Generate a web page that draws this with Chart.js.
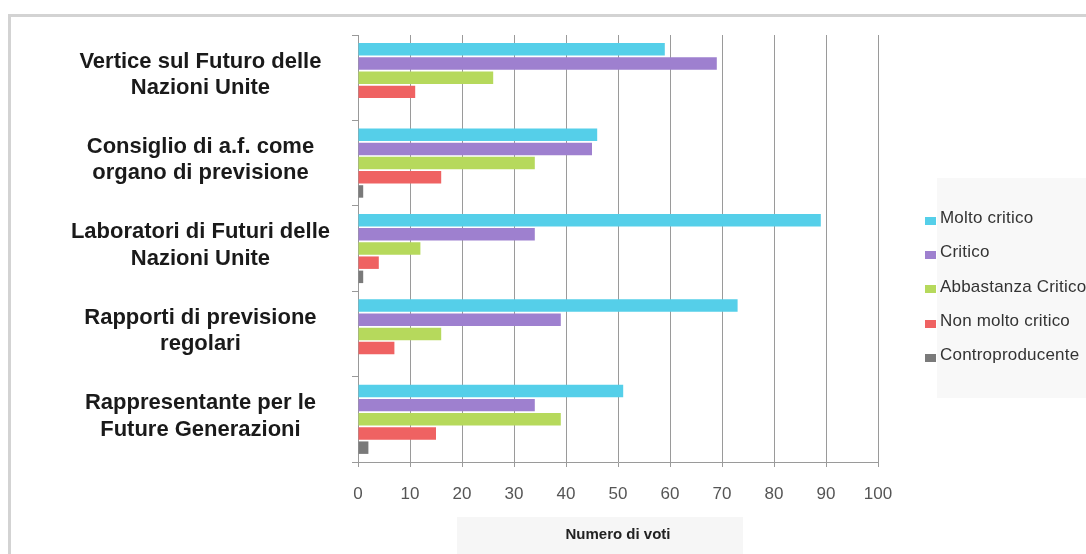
<!DOCTYPE html>
<html>
<head>
<meta charset="utf-8">
<script src="https://cdn.jsdelivr.net/npm/chart.js@4/dist/chart.umd.min.js"></script>
<style>
  html, body { margin: 0; padding: 0; background: #fff; }
  #wrap { position: relative; width: 1086px; height: 554px; overflow: hidden; }
  #frame { position: absolute; left: 8px; top: 14px; width: 1100px; height: 560px;
           border-left: 3px solid #d3d3d3; border-top: 3px solid #d3d3d3; }
  #legendBg { position: absolute; left: 937px; top: 178px; width: 160px; height: 220px; background: #f8f8f8; }
  #titleBg { position: absolute; left: 457px; top: 517px; width: 286px; height: 50px; background: #f6f6f6; }
  canvas { position: absolute; left: 0; top: 0; }
  #legend { position: absolute; left: 925px; top: 201px;
            font-family: "Liberation Sans", Arial, sans-serif; font-size: 17px; letter-spacing: 0.2px; color: #333; }
  #legend .item { height: 34.3px; display: flex; align-items: center; white-space: nowrap; }
  #legend .box { width: 11px; height: 8px; margin-right: 4px; margin-top: 5px; }
</style>
</head>
<body>
<div id="wrap">
  <div id="frame"></div>
  <div id="legendBg"></div>
  <div id="titleBg"></div>
  <canvas id="chart" width="1086" height="554"></canvas>
  <div id="legend"></div>
</div>
<script>
const categories = [
    ['Vertice sul Futuro delle', 'Nazioni Unite'],
    ['Consiglio di a.f. come', 'organo di previsione'],
    ['Laboratori di Futuri delle', 'Nazioni Unite'],
    ['Rapporti di previsione', 'regolari'],
    ['Rappresentante per le', 'Future Generazioni']
];
const seriesNames = ['Molto critico', 'Critico', 'Abbastanza Critico', 'Non molto critico', 'Controproducente'];
const moltoCritico = [59, 46, 89, 73, 51];
const critico = [69, 45, 34, 39, 34];
const abbastanzaCritico = [26, 34, 12, 16, 39];
const nonMoltoCritico = [11, 16, 4, 7, 15];
const controproducente = [0, 1, 1, 0, 2];
const xTicks = [0, 10, 20, 30, 40, 50, 60, 70, 80, 90, 100];
const seriesColors = ['#55cfe9', '#9e80cf', '#b6d95c', '#ef6262', '#7a7a7a'];

const seriesValues = [moltoCritico, critico, abbastanzaCritico, nonMoltoCritico, controproducente];

Chart.defaults.font.family = "'Liberation Sans', Arial, sans-serif";

// legend as html so it can sit where the original one is
const htmlLegend = {
    id: 'htmlLegend',
    afterUpdate(chart) {
        const box = document.getElementById('legend');
        box.innerHTML = '';
        const items = chart.options.plugins.legend.labels.generateLabels(chart);
        items.forEach(item => {
            const row = document.createElement('div');
            row.className = 'item';
            const swatch = document.createElement('span');
            swatch.className = 'box';
            swatch.style.background = item.fillStyle;
            const text = document.createElement('span');
            text.textContent = item.text;
            row.appendChild(swatch);
            row.appendChild(text);
            box.appendChild(row);
        });
    }
};

new Chart(document.getElementById('chart'), {
    type: 'bar',
    data: {
        labels: categories,
        datasets: seriesNames.map((name, i) => ({
            label: name,
            data: seriesValues[i],
            backgroundColor: seriesColors[i],
            borderWidth: 0,
            categoryPercentage: 0.83,
            barPercentage: 0.88
        }))
    },
    options: {
        indexAxis: 'y',
        responsive: false,
        animation: false,
        devicePixelRatio: 1,
        layout: { padding: { top: 35, right: 208, bottom: 0, left: 0 } },
        plugins: {
            legend: { display: false },
            tooltip: { enabled: false }
        },
        scales: {
            x: {
                min: 0,
                max: 100,
                afterBuildTicks(scale) {
                    scale.ticks = xTicks.map(v => ({ value: v }));
                },
                ticks: { padding: 17, color: '#555', font: { size: 17 } },
                grid: { color: '#9a9a9a', tickLength: 5 },
                border: { color: '#9a9a9a' },
                title: {
                    display: true,
                    text: 'Numero di voti',
                    color: '#222',
                    font: { size: 15, weight: 'bold' },
                    padding: { top: 4, bottom: 10 }
                },
                afterFit(scale) { scale.height = 92; }
            },
            y: {
                grid: { drawOnChartArea: false, drawTicks: true, tickLength: 6, color: '#999' },
                border: { color: '#999' },
                ticks: {
                    crossAlign: 'center',
                    padding: 22,
                    labelOffset: -3,
                    color: '#1a1a1a',
                    font: { size: 22, weight: 'bold', lineHeight: 1.2 }
                },
                afterFit(scale) {
                    scale.width = 358;
                    scale.paddingTop = 0;
                    scale.paddingBottom = 0;
                }
            }
        }
    },
    plugins: [htmlLegend]
});
</script>
</body>
</html>
